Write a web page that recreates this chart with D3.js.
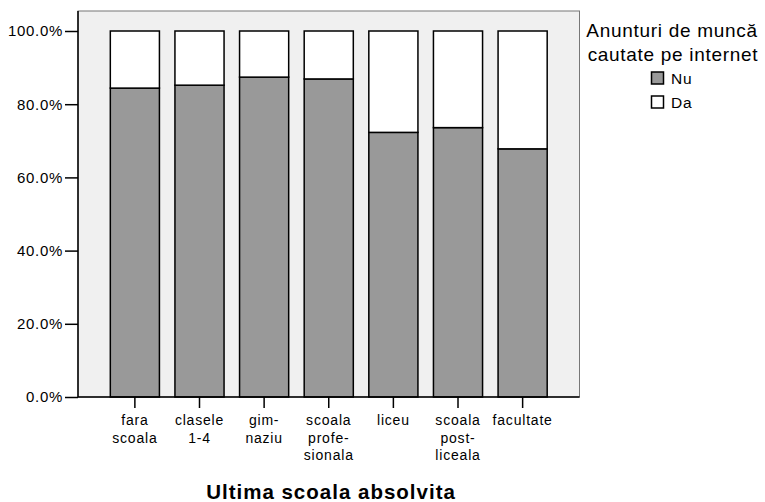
<!DOCTYPE html>
<html>
<head>
<meta charset="utf-8">
<script src="https://cdn.jsdelivr.net/npm/d3@7"></script>
<style>
  html, body { margin: 0; padding: 0; background: #fff; }
  svg { display: block; font-family: "Liberation Sans", Arial, sans-serif; }
</style>
</head>
<body>
<svg id="chart" width="765" height="502"></svg>
<script>
// Education levels (x categories), multi-line labels
const categories = ["fara scoala", "clasele 1-4", "gimnaziu", "scoala profesionala", "liceu", "scoala postliceala", "facultate"];
const categoryLines = [["fara", "scoala"], ["clasele", "1-4"], ["gim-", "naziu"], ["scoala", "profe-", "sionala"], ["liceu"], ["scoala", "post-", "liceala"], ["facultate"]];
// Share (%) of respondents answering "Nu" / "Da"
const nuValues = [84.4, 85.2, 87.4, 86.9, 72.3, 73.6, 67.8];
const daValues = nuValues.map(v => 100 - v);
const yTicks = [0, 20, 40, 60, 80, 100];
const seriesNames = ["Nu", "Da"];
const seriesColors = ["#999999", "#ffffff"];

const svg = d3.select("#chart");
const frame = { left: 78, right: 579.5, top: 11, bottom: 397 };

const x = d3.scaleBand()
  .domain(categories)
  .range([frame.left, frame.right])
  .paddingInner(0.24)
  .paddingOuter(0.5);

const y = d3.scaleLinear().domain([0, 100]).range([frame.bottom, 31]);

// plot background
svg.append("rect")
  .attr("x", frame.left).attr("y", frame.top)
  .attr("width", frame.right - frame.left).attr("height", frame.bottom - frame.top)
  .attr("fill", "#f0f0f0").attr("stroke", "#777").attr("stroke-width", 1);

// stacked bars
const rows = categories.map((c, i) => ({ cat: c, Nu: nuValues[i], Da: daValues[i] }));
const stack = d3.stack().keys(seriesNames)(rows);

stack.forEach((layer, li) => {
  svg.append("g").selectAll("rect").data(layer).join("rect")
    .attr("x", d => x(d.data.cat))
    .attr("width", x.bandwidth())
    .attr("y", d => y(d[1]))
    .attr("height", d => y(d[0]) - y(d[1]))
    .attr("fill", seriesColors[li])
    .attr("stroke", "#000")
    .attr("stroke-width", 1.5);
});

// y axis
const yAxis = svg.append("g")
  .attr("transform", `translate(${frame.left},0)`)
  .call(d3.axisLeft(y).tickValues(yTicks).tickSize(13).tickSizeOuter(0).tickFormat(d => d.toFixed(1) + "%"));
yAxis.select(".domain").attr("d", `M0,${frame.top}V${frame.bottom}`).attr("stroke", "#000").attr("stroke-width", 1.5);
yAxis.selectAll(".tick line").attr("stroke", "#000").attr("stroke-width", 1.5);
yAxis.selectAll(".tick text")
  .attr("x", -15).attr("dx", 0)
  .attr("font-size", 15).attr("fill", "#000")
  .attr("font-family", "Liberation Sans, Arial, sans-serif")
  .style("letter-spacing", "0.7px");

// x axis
const xAxis = svg.append("g")
  .attr("transform", `translate(0,${frame.bottom})`)
  .call(d3.axisBottom(x).tickSize(11).tickSizeOuter(0).tickFormat(""));
xAxis.select(".domain").attr("d", `M${frame.left},0H${frame.right}`).attr("stroke", "#000").attr("stroke-width", 1.5);
xAxis.selectAll(".tick line").attr("stroke", "#000").attr("stroke-width", 1.5);

categories.forEach((c, i) => {
  const t = svg.append("text")
    .attr("x", x(c) + x.bandwidth() / 2)
    .attr("y", 425)
    .attr("text-anchor", "middle")
    .attr("font-size", 14)
    .style("letter-spacing", "0.8px")
    .attr("fill", "#000");
  categoryLines[i].forEach((line, k) => {
    t.append("tspan").attr("x", x(c) + x.bandwidth() / 2).attr("dy", k === 0 ? 0 : 17.5).text(line);
  });
});

// x axis title
svg.append("text")
  .attr("x", 331).attr("y", 499)
  .attr("text-anchor", "middle")
  .attr("font-size", 20.5).attr("font-weight", "bold")
  .style("letter-spacing", "1px")
  .text("Ultima scoala absolvita");

// legend
const legend = svg.append("g");
legend.append("text").attr("x", 672).attr("y", 37).attr("text-anchor", "middle")
  .attr("font-size", 19).style("letter-spacing", "0.7px").text("Anunturi de muncă");
legend.append("text").attr("x", 673).attr("y", 61).attr("text-anchor", "middle")
  .attr("font-size", 19).style("letter-spacing", "0.7px").text("cautate pe internet");
seriesNames.forEach((s, i) => {
  const yy = 72 + i * 24;
  legend.append("rect").attr("x", 651.5).attr("y", yy).attr("width", 12).attr("height", 12)
    .attr("fill", seriesColors[i]).attr("stroke", "#000").attr("stroke-width", 1.5);
  legend.append("text").attr("x", 671).attr("y", yy + 12).attr("font-size", 15.5)
    .style("letter-spacing", "0.7px").text(s);
});
</script>
</body>
</html>
